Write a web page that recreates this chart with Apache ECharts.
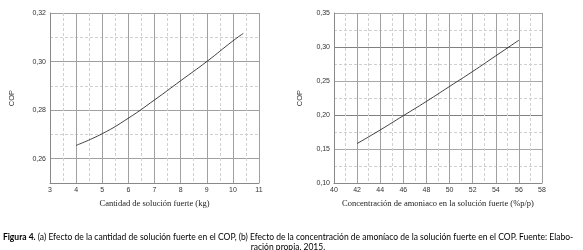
<!DOCTYPE html>
<html>
<head>
<meta charset="utf-8">
<script src="https://cdn.jsdelivr.net/npm/echarts@6/dist/echarts.min.js"></script>
<style>
  html, body { margin: 0; padding: 0; background: #fff; }
  #chart { width: 583px; height: 250px; }
</style>
</head>
<body>
<div id="chart"></div>
<script>
// (a) cantidad de solución fuerte (kg) vs COP
var masaKg = [4, 5, 6, 7, 8, 9, 10, 10.4]
var copMasa = [0.2655, 0.2703, 0.2767, 0.2842, 0.2921, 0.3000, 0.3085, 0.3116]

// (b) concentración de amoniaco (% p/p) vs COP
var concAmoniaco = [42, 44, 46, 48, 50, 52, 54, 56]
var copConc = [0.158, 0.178, 0.199, 0.220, 0.242, 0.264, 0.287, 0.310]

var nombreX = ['Cantidad de soluci\u00f3n fuerte (kg)', 'Concentraci\u00f3n de amoniaco en la soluci\u00f3n fuerte (%p/p)']
var nombreY = 'COP'

var tickFont = { fontFamily: 'Liberation Sans', fontSize: 7, color: '#333' }
var nameFont = { fontFamily: 'Liberation Serif', fontSize: 8.5, color: '#222' }
var solido = { show: true, lineStyle: { color: '#a0a0a0', width: 1 } }
var punteado = { show: true, lineStyle: { color: '#d0d0d0', width: 1, type: [3, 2] } }
var ejeLinea = { show: true, lineStyle: { color: '#888', width: 1 } }

function coma (v, dec) {
  return v.toFixed(dec).replace('.', ',')
}

var chart = echarts.init(document.getElementById('chart'))
chart.setOption({
  animation: false,
  backgroundColor: '#fff',
  title: {
    left: 283,
    top: 227,
    textAlign: 'center',
    text: '{b|Figura 4.} (a) Efecto de la cantidad de soluci\u00f3n fuerte en el COP, (b) Efecto de la concentraci\u00f3n de amon\u00edaco de la soluci\u00f3n fuerte en el COP. Fuente: Elabo-\nraci\u00f3n propia, 2015.',
    textStyle: {
      fontFamily: 'Lato',
      fontSize: 8.5,
      fontWeight: 'normal',
      color: '#000',
      lineHeight: 10,
      rich: {
        b: { fontFamily: 'Lato', fontSize: 8.5, fontWeight: 'bold', color: '#000' }
      }
    }
  },
  grid: [
    { left: 50, top: 13, width: 209, height: 170 },
    { left: 334, top: 13, width: 208, height: 170 }
  ],
  xAxis: [
    {
      gridIndex: 0, type: 'value', min: 3, max: 11, interval: 1,
      name: nombreX[0], nameLocation: 'middle', nameGap: 14, nameTextStyle: nameFont,
      axisLine: ejeLinea, axisTick: { show: false },
      axisLabel: Object.assign({ margin: 4 }, tickFont),
      splitLine: solido,
      minorTick: { show: false, splitNumber: 2 },
      minorSplitLine: punteado
    },
    {
      gridIndex: 1, type: 'value', min: 40, max: 58, interval: 2,
      name: nombreX[1], nameLocation: 'middle', nameGap: 14, nameTextStyle: nameFont,
      axisLine: ejeLinea, axisTick: { show: false },
      axisLabel: Object.assign({ margin: 4 }, tickFont),
      splitLine: solido,
      minorTick: { show: false, splitNumber: 2 },
      minorSplitLine: punteado
    }
  ],
  yAxis: [
    {
      // grid menor punteado cada 0,01
      gridIndex: 0, type: 'value', position: 'left', min: 0.25, max: 0.32, interval: 0.01,
      axisLine: { show: false }, axisTick: { show: false }, axisLabel: { show: false },
      splitLine: punteado
    },
    {
      gridIndex: 0, type: 'value', position: 'left', min: 0.25, max: 0.32, splitNumber: 4,
      name: nombreY, nameLocation: 'middle', nameGap: 34, nameRotate: 90,
      nameTextStyle: { fontFamily: 'Liberation Sans', fontSize: 7.5, color: '#333' },
      axisLine: ejeLinea, axisTick: { show: false },
      axisLabel: Object.assign({ margin: 4, showMinLabel: false, formatter: function (v) { return coma(v, 2) } }, tickFont),
      splitLine: solido
    },
    {
      gridIndex: 1, type: 'value', position: 'left', min: 0.10, max: 0.35, interval: 0.05,
      name: nombreY, nameLocation: 'middle', nameGap: 30, nameRotate: 90,
      nameTextStyle: { fontFamily: 'Liberation Sans', fontSize: 7.5, color: '#333' },
      axisLine: ejeLinea, axisTick: { show: false },
      axisLabel: Object.assign({ margin: 4, formatter: function (v) { return coma(v, 2) } }, tickFont),
      splitLine: { show: true, lineStyle: { color: ['#808080', '#a8a8a8'], width: 1 } },
      minorTick: { show: false, splitNumber: 2 },
      minorSplitLine: punteado
    }
  ],
  series: [
    {
      type: 'line', xAxisIndex: 0, yAxisIndex: 1, smooth: true, showSymbol: false,
      lineStyle: { color: '#111', width: 0.8 },
      data: masaKg.map(function (x, i) { return [x, copMasa[i]] })
    },
    {
      type: 'line', xAxisIndex: 1, yAxisIndex: 2, smooth: true, showSymbol: false,
      lineStyle: { color: '#111', width: 0.8 },
      data: concAmoniaco.map(function (x, i) { return [x, copConc[i]] })
    }
  ]
})
</script>
</body>
</html>
